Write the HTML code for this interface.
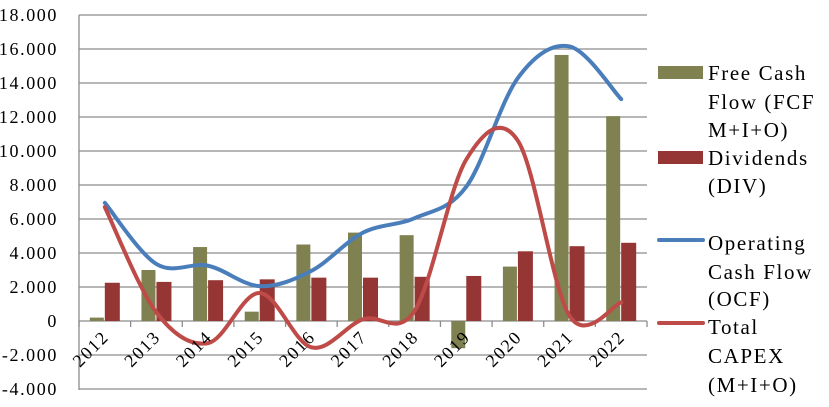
<!DOCTYPE html>
<html><head><meta charset="utf-8"><style>
html,body{margin:0;padding:0;background:#fff;}
svg{display:block;font-family:"Liberation Serif",serif;}
</style></head><body>
<svg id="s" width="829" height="407" viewBox="0 0 829 407" xmlns="http://www.w3.org/2000/svg">
<g id="grid" stroke="#8c8c8c" stroke-width="1.3"></g>
<g id="bars"></g>
<g id="lines" fill="none" stroke-width="4" stroke-linecap="round"></g>
<g id="labels" font-size="18" fill="#000" letter-spacing="1.6"></g>
<g font-size="21" fill="#000" letter-spacing="1.6">
<rect x="658" y="66" width="45" height="13" fill="#7f8150"/>
<text x="708" y="80">Free Cash</text>
<text x="708" y="109">Flow (FCF</text>
<text x="708" y="137">M+I+O)</text>
<rect x="658" y="151" width="45" height="13" fill="#963634"/>
<text x="708" y="165">Dividends</text>
<text x="708" y="193">(DIV)</text>
<line x1="659" y1="240" x2="703" y2="240" stroke="#4a7ebb" stroke-width="4" stroke-linecap="round"/>
<text x="708" y="250">Operating</text>
<text x="708" y="279">Cash Flow</text>
<text x="708" y="306">(OCF)</text>
<line x1="659" y1="323" x2="703" y2="323" stroke="#be4b48" stroke-width="4" stroke-linecap="round"/>
<text x="708" y="334">Total</text>
<text x="708" y="363">CAPEX</text>
<text x="708" y="392">(M+I+O)</text>
</g>
</svg>
<script>
var NS="http://www.w3.org/2000/svg";
function el(p,t,a,txt){var e=document.createElementNS(NS,t);for(var k in a)e.setAttribute(k,a[k]);if(txt!=null)e.textContent=txt;document.getElementById(p).appendChild(e);return e;}
var L=79,R=647,cw=(R-L)/11;
function Y(v){return 321-v*0.017;}
function X(i){return L+cw*(i+0.5);}
for(var v=-4000;v<=18000;v+=2000){
 if(v!=0)el("grid","line",{x1:L,x2:R,y1:Y(v),y2:Y(v)});
 var s=v==0?"0":(v<0?"-":"")+(Math.abs(v)/1000)+".000";
 el("labels","text",{x:58,y:Y(v)+6,"text-anchor":"end"},s);
}
var fcf=[200,3000,4350,550,4500,5200,5050,-1600,3200,15650,12050];
var div=[2250,2300,2400,2450,2550,2550,2600,2650,4100,4400,4600];
var ocf=[6950,3350,3250,2050,2950,5200,6050,7900,14300,16150,13050];
var cap=[6700,500,-1300,1650,-1550,100,600,9500,10600,300,1100];
for(var i=0;i<11;i++){
 var c=X(i);
 var f=fcf[i];el("bars","rect",{x:c-15,width:14,y:Math.min(Y(f),Y(0)),height:Math.abs(Y(f)-Y(0)),fill:"#7f8150"});
 var d=div[i];el("bars","rect",{x:c,width:15,y:Y(d),height:Y(0)-Y(d),fill:"#963634"});
 var yr=2012+i;
 el("labels","text",{x:0,y:0,transform:"translate("+(c+5)+",338) rotate(-45)","text-anchor":"end"},""+yr);
}
el("grid","line",{x1:L,x2:L,y1:15,y2:390});
el("grid","line",{x1:L,x2:R,y1:Y(0),y2:Y(0)});
for(var i=0;i<=11;i++)el("grid","line",{x1:L+cw*i,x2:L+cw*i,y1:321,y2:327});
function path(d){
 var p=d.map(function(v,i){return [X(i),Y(v)];});
 var s="M"+p[0][0]+","+p[0][1];
 for(var i=0;i<p.length-1;i++){
  var p0=p[i-1]||p[i],p1=p[i],p2=p[i+1],p3=p[i+2]||p[i+1];
  var t=1/6;
  s+=" C"+(p1[0]+(p2[0]-p0[0])*t)+","+(p1[1]+(p2[1]-p0[1])*t)+" "+(p2[0]-(p3[0]-p1[0])*t)+","+(p2[1]-(p3[1]-p1[1])*t)+" "+p2[0]+","+p2[1];
 }
 return s;
}
el("lines","path",{d:path(ocf),stroke:"#4a7ebb"});
el("lines","path",{d:path(cap),stroke:"#be4b48"});
</script>
</body></html>
